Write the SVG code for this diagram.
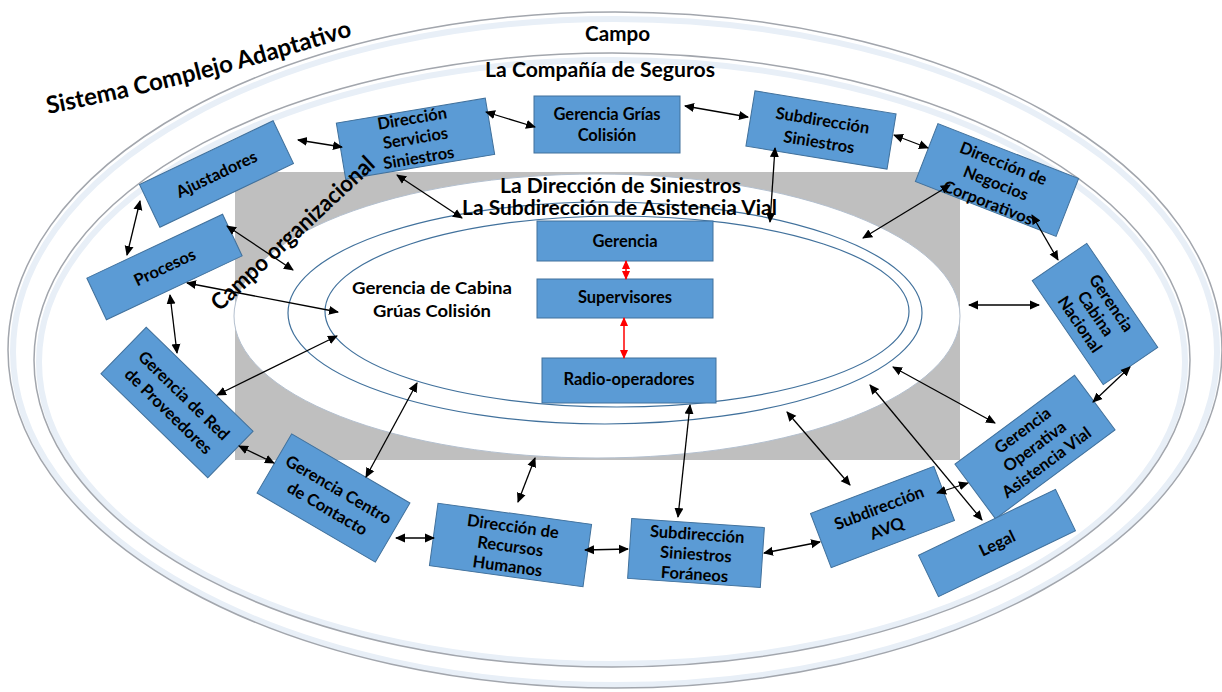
<svg xmlns="http://www.w3.org/2000/svg" width="1222" height="692" viewBox="0 0 1222 692">
<style>
.ring{fill:none;stroke:#a2a6ad;stroke-width:1.5}
.glow{fill:none;stroke:#e8eff7;stroke-width:6}
.box{fill:#5b9bd5;stroke:#41719c;stroke-width:1}
.bt{font-family:Lato,"Liberation Sans",sans-serif;font-weight:bold;font-size:16.5px;fill:#000;text-anchor:middle}
.lbl{font-family:Lato,"Liberation Sans",sans-serif;font-weight:bold;fill:#000}
.blue{fill:none;stroke:#41719c;stroke-width:1.2}
.con line{stroke:#000;stroke-width:1.3;marker-start:url(#ah);marker-end:url(#ah)}
.red line{stroke:#ff0000;stroke-width:1.5;marker-start:url(#rh);marker-end:url(#rh)}
</style>
<defs>
<marker id="ah" viewBox="0 0 10 10" refX="9" refY="5" markerWidth="10" markerHeight="10" markerUnits="userSpaceOnUse" orient="auto-start-reverse"><path d="M0,0.5 L10,5 L0,9.5 z" fill="#000"/></marker>
<marker id="rh" viewBox="0 0 10 10" refX="9" refY="5" markerWidth="9" markerHeight="10" markerUnits="userSpaceOnUse" orient="auto-start-reverse"><path d="M0,0.5 L10,5 L0,9.5 z" fill="#ff0000"/></marker>
<path id="sca" d="M48,114 Q200,84 358,34"/>
</defs>
<rect width="1222" height="692" fill="#fff"/>
<g id="rings">
<ellipse class="glow" cx="615" cy="352" rx="602" ry="333"/>
<ellipse class="ring" cx="615" cy="350" rx="607" ry="338"/>
<ellipse class="glow" cx="612" cy="362" rx="573" ry="302"/>
<ellipse class="ring" cx="612" cy="360" rx="578" ry="307"/>
</g>
<rect id="campo-org" x="235" y="172" width="725" height="288" fill="#bfbfbf"/>
<ellipse id="dir-siniestros" cx="597" cy="316" rx="363" ry="142" fill="#fff" stroke="#b4c0cf" stroke-width="1"/>
<ellipse class="blue" cx="605" cy="313" rx="317" ry="111"/>
<ellipse class="blue" cx="617" cy="311.5" rx="292" ry="95.5"/>
<g id="labels">
<text class="lbl" font-size="24"><textPath href="#sca">Sistema Complejo Adaptativo</textPath></text>
<text class="lbl" x="585" y="41" font-size="21" textLength="65" lengthAdjust="spacingAndGlyphs">Campo</text>
<text class="lbl" x="485" y="77" font-size="20" textLength="230" lengthAdjust="spacingAndGlyphs">La Compañía de Seguros</text>
<text class="lbl" x="500" y="193" font-size="20" textLength="241" lengthAdjust="spacingAndGlyphs">La Dirección de Siniestros</text>
<text class="lbl" x="462" y="215" font-size="20" textLength="315" lengthAdjust="spacingAndGlyphs">La Subdirección de Asistencia Vial</text>
<text class="lbl" x="352" y="294" font-size="17" textLength="160" lengthAdjust="spacingAndGlyphs">Gerencia de Cabina</text>
<text class="lbl" x="373" y="317" font-size="17" textLength="118" lengthAdjust="spacingAndGlyphs">Grúas Colisión</text>
</g>
<g id="n-gerencia"><rect class="box" x="537" y="221" width="176" height="40"/><text class="bt" x="625" y="247" font-size="16">Gerencia</text></g>
<g id="n-supervisores"><rect class="box" x="537" y="279" width="176" height="39"/><text class="bt" x="625" y="303" font-size="12.5">Supervisores</text></g>
<g id="n-radio"><rect class="box" x="542" y="358" width="174" height="45"/><text class="bt" x="629" y="385" font-size="12.5">Radio-operadores</text></g>
<g id="n-grias"><rect class="box" x="534" y="96" width="146" height="57"/><text class="bt" x="607" y="120">Gerencia Grías</text><text class="bt" x="607" y="141">Colisión</text></g>
<g id="n-dss" transform="translate(415.5,138.75) rotate(-9.5)"><rect class="box" x="-75.5" y="-28.5" width="151" height="57"/><text class="bt" y="-15">Dirección</text><text class="bt" y="5">Servicios</text><text class="bt" y="25">Siniestros</text></g>
<g id="n-subsin" transform="translate(821,130) rotate(9.3)"><rect class="box" x="-71.5" y="-28" width="143" height="56"/><text class="bt" y="-4">Subdirección</text><text class="bt" y="18">Siniestros</text></g>
<g id="n-negocios" transform="translate(997,180) rotate(21.3)"><rect class="box" x="-75.5" y="-31" width="151" height="62"/><text class="bt" y="-12">Dirección de</text><text class="bt" y="9">Negocios</text><text class="bt" y="30">Corporativos</text></g>
<g id="n-cabina" transform="translate(1095,314) rotate(55.7)"><rect class="box" x="-63" y="-33" width="126" height="66"/><text class="bt" y="-14">Gerencia</text><text class="bt" y="5">Cabina</text><text class="bt" y="24">Nacional</text></g>
<g id="n-operativa" transform="translate(1035,447) rotate(-36.6)"><rect class="box" x="-74.5" y="-34" width="149" height="68"/><text class="bt" y="-15">Gerencia</text><text class="bt" y="5">Operativa</text><text class="bt" y="25">Asistencia Vial</text></g>
<g id="n-legal" transform="translate(997,543) rotate(-25.7)"><rect class="box" x="-76" y="-23" width="152" height="46"/><text class="bt" y="6">Legal</text></g>
<g id="n-avq" transform="translate(882.5,517) rotate(-20.9)"><rect class="box" x="-66" y="-29" width="132" height="58"/><text class="bt" y="-4">Subdirección</text><text class="bt" y="18">AVQ</text></g>
<g id="n-foraneos" transform="translate(696,553) rotate(3.9)"><rect class="box" x="-66.5" y="-30" width="133" height="60"/><text class="bt" y="-13">Subdirección</text><text class="bt" y="7">Siniestros</text><text class="bt" y="27">Foráneos</text></g>
<g id="n-rrhh" transform="translate(510.5,545) rotate(7.8)"><rect class="box" x="-77.5" y="-31.5" width="155" height="63"/><text class="bt" y="-13">Dirección de</text><text class="bt" y="7">Recursos</text><text class="bt" y="27">Humanos</text></g>
<g id="n-contacto" transform="translate(333.5,498) rotate(30.3)"><rect class="box" x="-68.5" y="-34.3" width="137" height="68.6"/><text class="bt" y="-4">Gerencia Centro</text><text class="bt" y="18">de Contacto</text></g>
<g id="n-proveedores" transform="translate(177,402.5) rotate(44.2)"><rect class="box" x="-74.5" y="-32.5" width="149" height="65"/><text class="bt" y="-4">Gerencia de Red</text><text class="bt" y="18">de Proveedores</text></g>
<g id="n-procesos" transform="translate(164.5,267) rotate(-25.2)"><rect class="box" x="-75" y="-23" width="150" height="46"/><text class="bt" y="6">Procesos</text></g>
<g id="n-ajustadores" transform="translate(216.5,174) rotate(-25.5)"><rect class="box" x="-74" y="-23.7" width="148" height="47.4"/><text class="bt" y="6">Ajustadores</text></g>
<text id="campo-organizacional" class="lbl" font-size="23" text-anchor="middle" transform="translate(298,239) rotate(-43)" textLength="214" lengthAdjust="spacingAndGlyphs">Campo organizacional</text>
<g id="connectors" class="con">
<line x1="298" y1="140" x2="342" y2="147"/>
<line x1="486" y1="112" x2="535" y2="127"/>
<line x1="685" y1="106" x2="748" y2="117"/>
<line x1="894" y1="135" x2="928" y2="148"/>
<line x1="775" y1="148" x2="770" y2="222"/>
<line x1="950" y1="185" x2="863" y2="238"/>
<line x1="1032" y1="215" x2="1058" y2="260"/>
<line x1="969" y1="305" x2="1039" y2="305"/>
<line x1="1130" y1="367" x2="1093" y2="402"/>
<line x1="893" y1="367" x2="995" y2="423"/>
<line x1="937" y1="493" x2="968" y2="483"/>
<line x1="870" y1="385" x2="982" y2="520"/>
<line x1="787" y1="412" x2="850" y2="485"/>
<line x1="764" y1="553" x2="820" y2="542"/>
<line x1="690" y1="405" x2="678" y2="517"/>
<line x1="585" y1="550" x2="628" y2="549"/>
<line x1="535" y1="458" x2="518" y2="502"/>
<line x1="396" y1="538" x2="434" y2="538"/>
<line x1="417" y1="383" x2="366" y2="477"/>
<line x1="239" y1="446" x2="274" y2="463"/>
<line x1="217" y1="395" x2="337" y2="336"/>
<line x1="170" y1="295" x2="177" y2="353"/>
<line x1="187" y1="283" x2="338" y2="312"/>
<line x1="227" y1="226" x2="293" y2="270"/>
<line x1="140" y1="201" x2="127" y2="255"/>
<line x1="397" y1="175" x2="462" y2="218"/>
</g>
<g id="red-connectors" class="red">
<line x1="626" y1="261" x2="626" y2="279"/>
<line x1="624" y1="318" x2="624" y2="358"/>
</g>
</svg>
